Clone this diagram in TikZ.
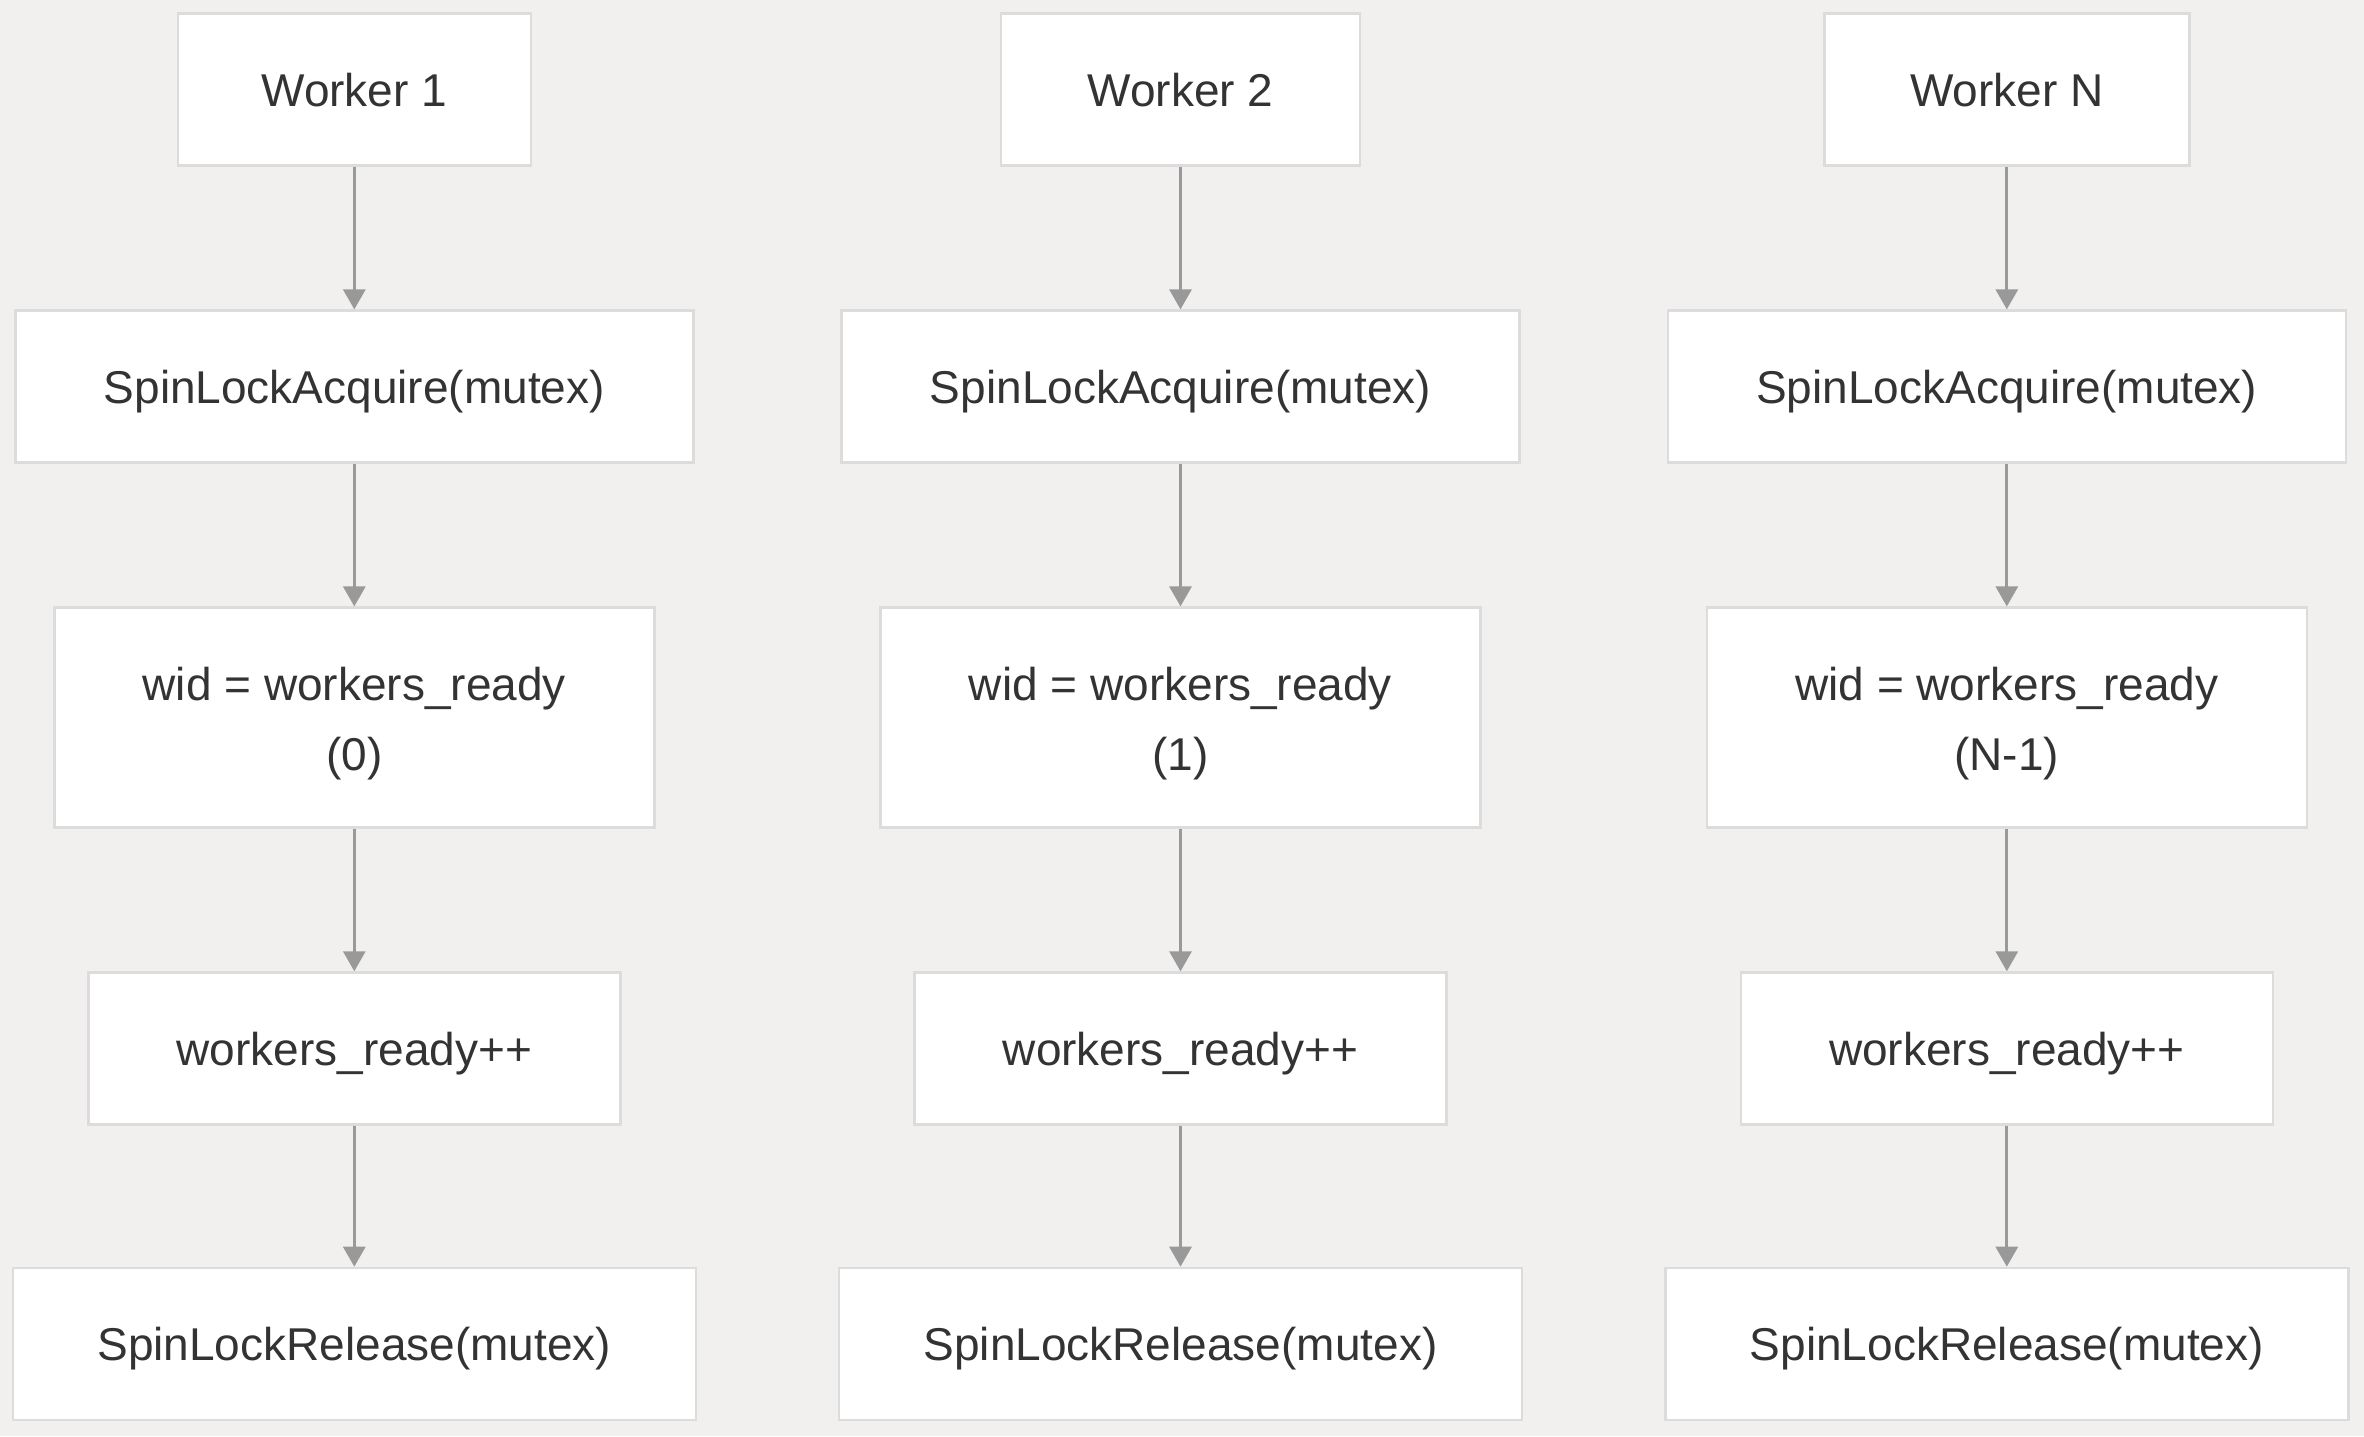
\documentclass[tikz,border=0pt]{standalone}
\usepackage{fontspec}
\setmainfont{Liberation Sans}
\usetikzlibrary{arrows.meta}
\definecolor{bgc}{HTML}{F1F0EE}
\definecolor{boxborder}{HTML}{DCDCDC}
\definecolor{arrowc}{HTML}{999999}
\definecolor{txt}{HTML}{333333}
\newcommand\twoln[2]{\vtop{\baselineskip=35pt\hbox to 0pt{\hss#1\hss}\hbox to 0pt{\hss#2\hss}}}
\begin{document}
\begin{tikzpicture}[x=0.5pt,y=-0.5pt,
  box/.style={draw=boxborder,line width=1.3pt,fill=white,inner sep=0pt,
    text=txt,font=\fontsize{23}{35}\selectfont,minimum height=76pt,
    text height=18pt,text depth=1.4pt},
  tallbox/.style={box,minimum height=110pt,text height=10pt,text depth=27.7pt},
  conn/.style={draw=arrowc,line width=1.5pt,-{Triangle[width=11pt,length=10pt]}}]
\fill[bgc] (0,0) rectangle (2364,1436);
\useasboundingbox (0,0) rectangle (2364,1436);
% column 1
\node[box,minimum width=176.5pt] (w1) at (354.3,89.7) {Worker 1};
\node[box,minimum width=339pt] (a1) at (354.3,386.7) {SpinLockAcquire(mutex)};
\node[tallbox,minimum width=300pt] (r1) at (354.3,717.7) {\twoln{wid = workers\_ready}{(0)}};
\node[box,minimum width=266pt] (i1) at (354.3,1048.6) {workers\_ready++};
\node[box,minimum width=341.5pt] (l1) at (354.3,1344) {SpinLockRelease(mutex)};
% column 2
\node[box,minimum width=179.5pt] (w2) at (1180.5,89.7) {Worker 2};
\node[box,minimum width=339pt] (a2) at (1180.5,386.7) {SpinLockAcquire(mutex)};
\node[tallbox,minimum width=300pt] (r2) at (1180.5,717.7) {\twoln{wid = workers\_ready}{(1)}};
\node[box,minimum width=266pt] (i2) at (1180.5,1048.6) {workers\_ready++};
\node[box,minimum width=341.5pt] (l2) at (1180.5,1344) {SpinLockRelease(mutex)};
% column 3
\node[box,minimum width=182.5pt] (w3) at (2006.8,89.7) {Worker N};
\node[box,minimum width=339pt] (a3) at (2006.8,386.7) {SpinLockAcquire(mutex)};
\node[tallbox,minimum width=300pt] (r3) at (2006.8,717.7) {\twoln{wid = workers\_ready}{(N-1)}};
\node[box,minimum width=266pt] (i3) at (2006.8,1048.6) {workers\_ready++};
\node[box,minimum width=341.5pt] (l3) at (2006.8,1344) {SpinLockRelease(mutex)};
% connectors
\foreach \c in {1,2,3}{
  \draw[conn] (w\c.south) -- (a\c.north);
  \draw[conn] (a\c.south) -- (r\c.north);
  \draw[conn] (r\c.south) -- (i\c.north);
  \draw[conn] (i\c.south) -- (l\c.north);
}
\end{tikzpicture}
\end{document}
